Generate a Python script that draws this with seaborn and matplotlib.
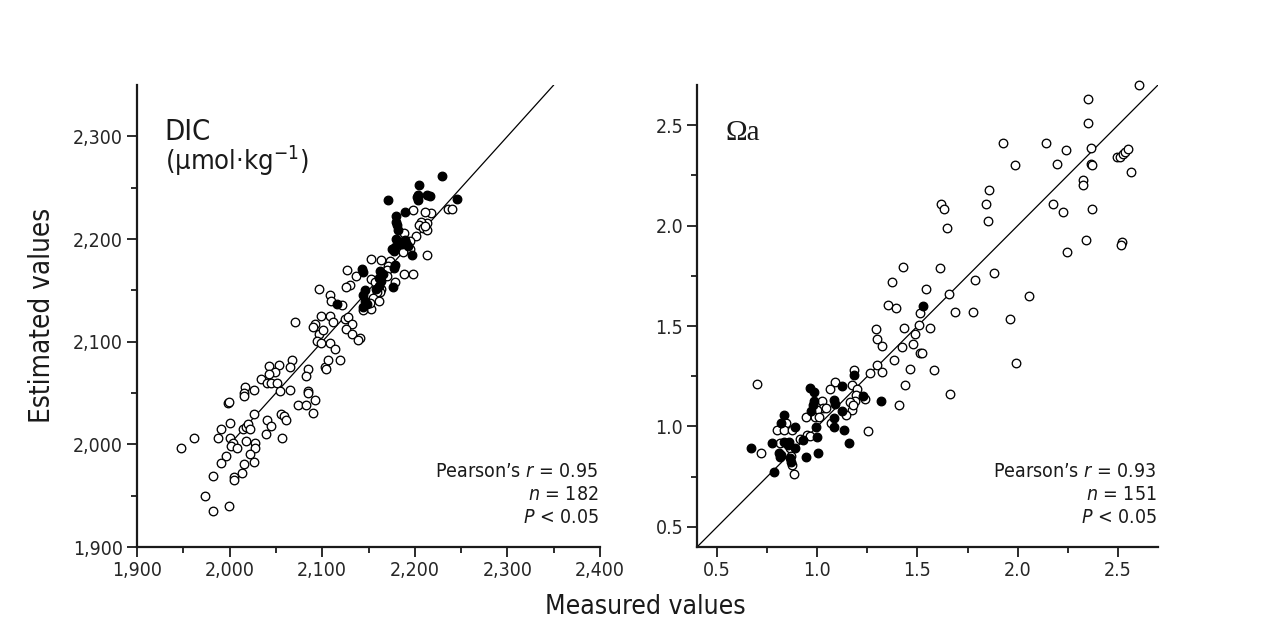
import numpy as np
import pandas as pd
import matplotlib
matplotlib.use("Agg")
import matplotlib.pyplot as plt
import seaborn as sns
from matplotlib.ticker import FixedLocator

# DIC panel, umol/kg (measured, estimated)
dic_open_meas = [2067, 2065, 2042, 2053, 2049, 2042, 2034, 2040, 2045, 2051, 2054, 2017, 2026, 2015, 2016,
                 1998, 1999, 2026, 2000, 1991, 2014, 2018, 2020, 2022, 2040, 2045, 2039, 2056, 2059, 2061,
                 2057, 1961, 1948, 1987, 2000, 2004, 2002, 2008, 2018, 2027, 2027, 2022, 1996, 1991, 2016,
                 2026, 2013, 2005, 2005, 1982, 1973, 1999, 1982, 2085, 2083, 2085, 2085, 2074, 2083, 2092,
                 2090, 2103, 2104, 2106, 2119, 2065,
                 2236, 2240, 2198, 2218, 2211, 2213, 2207, 2204, 2209, 2213, 2211, 2188, 2201, 2195, 2189,
                 2213, 2195, 2187, 2153, 2164, 2173, 2171, 2170, 2127, 2137, 2130, 2126, 2153, 2157, 2170,
                 2179, 2188, 2198, 2164, 2162, 2159, 2155, 2161, 2153, 2144, 2152, 2096, 2108, 2110, 2121,
                 2071, 2099, 2108, 2092, 2090, 2096, 2101, 2112, 2125, 2128, 2132, 2126, 2132, 2141, 2139,
                 2094, 2099, 2108, 2114]
dic_open_est = [2082, 2075, 2076, 2077, 2070, 2069, 2064, 2060, 2060, 2060, 2052, 2056, 2053, 2050, 2047,
                2040, 2041, 2030, 2021, 2015, 2015, 2017, 2020, 2015, 2024, 2018, 2010, 2030, 2028, 2024,
                2006, 2006, 1996, 2006, 2006, 2001, 1998, 1996, 2003, 2001, 1996, 1991, 1989, 1982, 1981,
                1983, 1972, 1968, 1965, 1969, 1950, 1940, 1935, 2073, 2067, 2052, 2050, 2038, 2038, 2043,
                2031, 2075, 2073, 2082, 2082, 2053,
                2229, 2229, 2228, 2225, 2226, 2216, 2217, 2214, 2211, 2209, 2213, 2206, 2203, 2198, 2191,
                2184, 2190, 2187, 2181, 2180, 2179, 2174, 2170, 2170, 2164, 2155, 2153, 2161, 2158, 2164,
                2158, 2166, 2166, 2151, 2148, 2148, 2143, 2140, 2132, 2131, 2138, 2151, 2145, 2140, 2136,
                2119, 2125, 2125, 2117, 2114, 2107, 2111, 2119, 2122, 2124, 2117, 2112, 2107, 2104, 2102,
                2101, 2099, 2099, 2093]
dic_fill_meas = [2229, 2205, 2203, 2202, 2203, 2213, 2216, 2171, 2246, 2189, 2180, 2180, 2181, 2182,
                 2180, 2189, 2191, 2186, 2193, 2188, 2175, 2179, 2177, 2197, 2179, 2177, 2143, 2144,
                 2162, 2164, 2161, 2166, 2161, 2158, 2164, 2176, 2146, 2144, 2146, 2148, 2144, 2116]
dic_fill_est = [2261, 2253, 2243, 2241, 2238, 2243, 2242, 2238, 2239, 2226, 2222, 2217, 2214, 2209,
                2200, 2199, 2196, 2195, 2193, 2198, 2190, 2192, 2188, 2184, 2175, 2172, 2171, 2168,
                2169, 2164, 2162, 2166, 2154, 2151, 2159, 2153, 2150, 2145, 2140, 2137, 2134, 2137]

# aragonite saturation panel (measured, estimated)
om_open_meas = [2.607, 2.352, 2.352, 2.364, 2.364, 2.369, 2.142, 2.241, 2.195, 1.926, 1.987, 2.494, 2.510,
                2.524, 2.535, 2.552, 2.565, 2.324, 2.324, 2.369, 2.175, 2.225, 2.341, 2.519, 2.514, 2.245,
                1.859, 1.842, 1.854, 1.618, 1.630, 1.647, 2.058, 1.962, 1.882, 1.779, 1.688, 1.789, 1.655,
                1.613, 1.427, 1.372, 1.543, 1.355, 1.394, 1.513, 1.510, 1.560, 1.434, 1.489, 1.294, 1.298,
                0.699, 0.719, 1.322, 1.422, 1.477, 1.513, 1.522, 1.384, 1.464, 1.298, 1.322, 1.264, 1.439,
                1.410, 1.181, 1.090, 1.061, 1.173, 1.198, 1.194, 1.239, 1.189, 1.164, 1.173, 1.145, 1.178,
                1.023, 1.028, 1.045, 0.999, 0.990, 1.007, 0.945, 1.068, 1.251, 0.799, 0.845, 0.835, 0.874,
                0.816, 0.865, 0.870, 0.874, 0.882, 0.915, 0.949, 0.962, 1.992, 1.663, 1.583]
om_open_est = [2.700, 2.632, 2.512, 2.388, 2.306, 2.302, 2.410, 2.375, 2.306, 2.410, 2.301, 2.344, 2.344,
               2.356, 2.368, 2.380, 2.269, 2.227, 2.203, 2.082, 2.107, 2.069, 1.929, 1.917, 1.905, 1.867,
               2.177, 2.107, 2.024, 2.110, 2.082, 1.988, 1.652, 1.534, 1.765, 1.572, 1.569, 1.730, 1.660,
               1.788, 1.796, 1.718, 1.682, 1.607, 1.589, 1.566, 1.506, 1.492, 1.492, 1.462, 1.483, 1.437,
               1.213, 0.869, 1.399, 1.395, 1.409, 1.366, 1.366, 1.329, 1.288, 1.304, 1.271, 1.266, 1.209,
               1.106, 1.280, 1.221, 1.189, 1.205, 1.189, 1.155, 1.139, 1.127, 1.122, 1.081, 1.056, 1.106,
               1.129, 1.094, 1.094, 1.081, 1.048, 1.045, 1.048, 1.015, 0.978, 0.985, 1.015, 0.982, 0.985,
               0.916, 0.891, 0.853, 0.808, 0.763, 0.940, 0.957, 0.952, 1.318, 1.160, 1.280]
om_fill_meas = [0.671, 0.774, 0.782, 0.807, 0.812, 0.818, 0.835, 0.818, 0.832, 0.852, 0.857, 0.862, 0.869,
                0.890, 0.890, 0.929, 0.945, 1.003, 0.999, 0.995, 0.965, 0.985, 0.982, 0.979, 0.969, 1.085,
                1.090, 1.123, 1.181, 1.123, 1.081, 1.085, 1.131, 1.156, 1.228, 1.319, 1.527]
om_fill_est = [0.891, 0.916, 0.775, 0.866, 0.846, 0.857, 1.056, 1.015, 0.923, 0.907, 0.923, 0.841, 0.824,
               0.891, 0.998, 0.935, 0.849, 0.869, 0.948, 0.998, 1.194, 1.172, 1.127, 1.106, 1.078, 1.134,
               1.114, 1.200, 1.255, 1.078, 1.040, 0.998, 0.982, 0.919, 1.150, 1.127, 1.602]

dic_ticks = [1900, 2000, 2100, 2200, 2300, 2400]
dic_ticklabels = ["1,900", "2,000", "2,100", "2,200", "2,300", "2,400"]
om_ticks = [0.5, 1.0, 1.5, 2.0, 2.5]
om_ticklabels = ["0.5", "1.0", "1.5", "2.0", "2.5"]
dic_stats = ["Pearson\u2019s $r$ = 0.95", "$n$ = 182", "$P$ < 0.05"]
om_stats = ["Pearson\u2019s $r$ = 0.93", "$n$ = 151", "$P$ < 0.05"]

sns.set_theme(style="ticks")
plt.rcParams["font.family"] = ["DejaVu Sans"]
plt.rcParams["font.stretch"] = "condensed"
plt.rcParams["mathtext.fontset"] = "custom"
plt.rcParams["mathtext.rm"] = "DejaVu Sans:stretch=condensed"
plt.rcParams["mathtext.it"] = "DejaVu Sans:italic:stretch=condensed"
plt.rcParams["text.color"] = "#1a1a1a"

fig = plt.figure(figsize=(12.71, 6.31), dpi=100)
ax1 = fig.add_axes([0.1078, 0.1331, 0.3643, 0.7322])
ax2 = fig.add_axes([0.5484, 0.1331, 0.3627, 0.7322])


def panel(ax, om, fm, oe, fe, lo, hi, line_lo, ticks, labels, minors, stats):
    ax.plot([line_lo, hi], [line_lo, hi], color="black", lw=0.9, zorder=1)
    sns.scatterplot(x=om, y=oe, ax=ax, s=38, facecolor="white", edgecolor="black",
                    linewidth=0.95, zorder=2, clip_on=False)
    sns.scatterplot(x=fm, y=fe, ax=ax, s=38, color="black", edgecolor="black",
                    linewidth=0.95, zorder=3, clip_on=False)
    ax.set_xlim(lo, ticks[-1] if ticks[-1] > hi else hi)
    ax.set_ylim(lo, hi)
    ax.set_xticks(ticks)
    ax.set_xticklabels(labels)
    yt = [t for t in ticks if t <= hi]
    ax.set_yticks(yt)
    ax.set_yticklabels(labels[:len(yt)])
    ax.xaxis.set_minor_locator(FixedLocator(minors))
    ax.yaxis.set_minor_locator(FixedLocator([m for m in minors if m < hi]))
    ax.tick_params(which="major", length=7, width=1.3, labelsize=14, pad=3, color="#1a1a1a")
    ax.tick_params(which="minor", length=4, width=1.3, color="#1a1a1a")
    for s in ["left", "bottom"]:
        ax.spines[s].set_linewidth(1.6)
        ax.spines[s].set_color("#1a1a1a")
    sns.despine(ax=ax)
    for txt, yy in zip(stats, [0.152, 0.102, 0.053]):
        ax.text(0.997, yy, txt, transform=ax.transAxes, ha="right", va="baseline", fontsize=14)


panel(ax1, dic_open_meas, dic_fill_meas, dic_open_est, dic_fill_est, 1900, 2350, 2000,
      dic_ticks, dic_ticklabels, [1950, 2050, 2150, 2250, 2350], dic_stats)
panel(ax2, om_open_meas, om_fill_meas, om_open_est, om_fill_est, 0.4, 2.7, 0.4,
      om_ticks, om_ticklabels, [0.75, 1.25, 1.75, 2.25], om_stats)
ax2.set_xlim(0.4, 2.7)

ax1.text(0.06, 0.881, "DIC", transform=ax1.transAxes, ha="left", va="baseline", fontsize=21)
ax1.text(0.06, 0.815, "(\u03bcmol\u00b7kg$^{\u22121}$)", transform=ax1.transAxes,
         ha="left", va="baseline", fontsize=19.5)
ax2.text(0.061, 0.881, "\u03a9a", transform=ax2.transAxes, ha="left", va="baseline",
         fontsize=21, family=["Liberation Serif", "DejaVu Serif"], stretch="normal")

fig.text(0.033, 0.5, "Estimated values", rotation=90, ha="center", va="center", fontsize=20)
fig.text(0.508, 0.038, "Measured values", ha="center", va="center", fontsize=19)

fig.savefig("out.png", dpi=100)
